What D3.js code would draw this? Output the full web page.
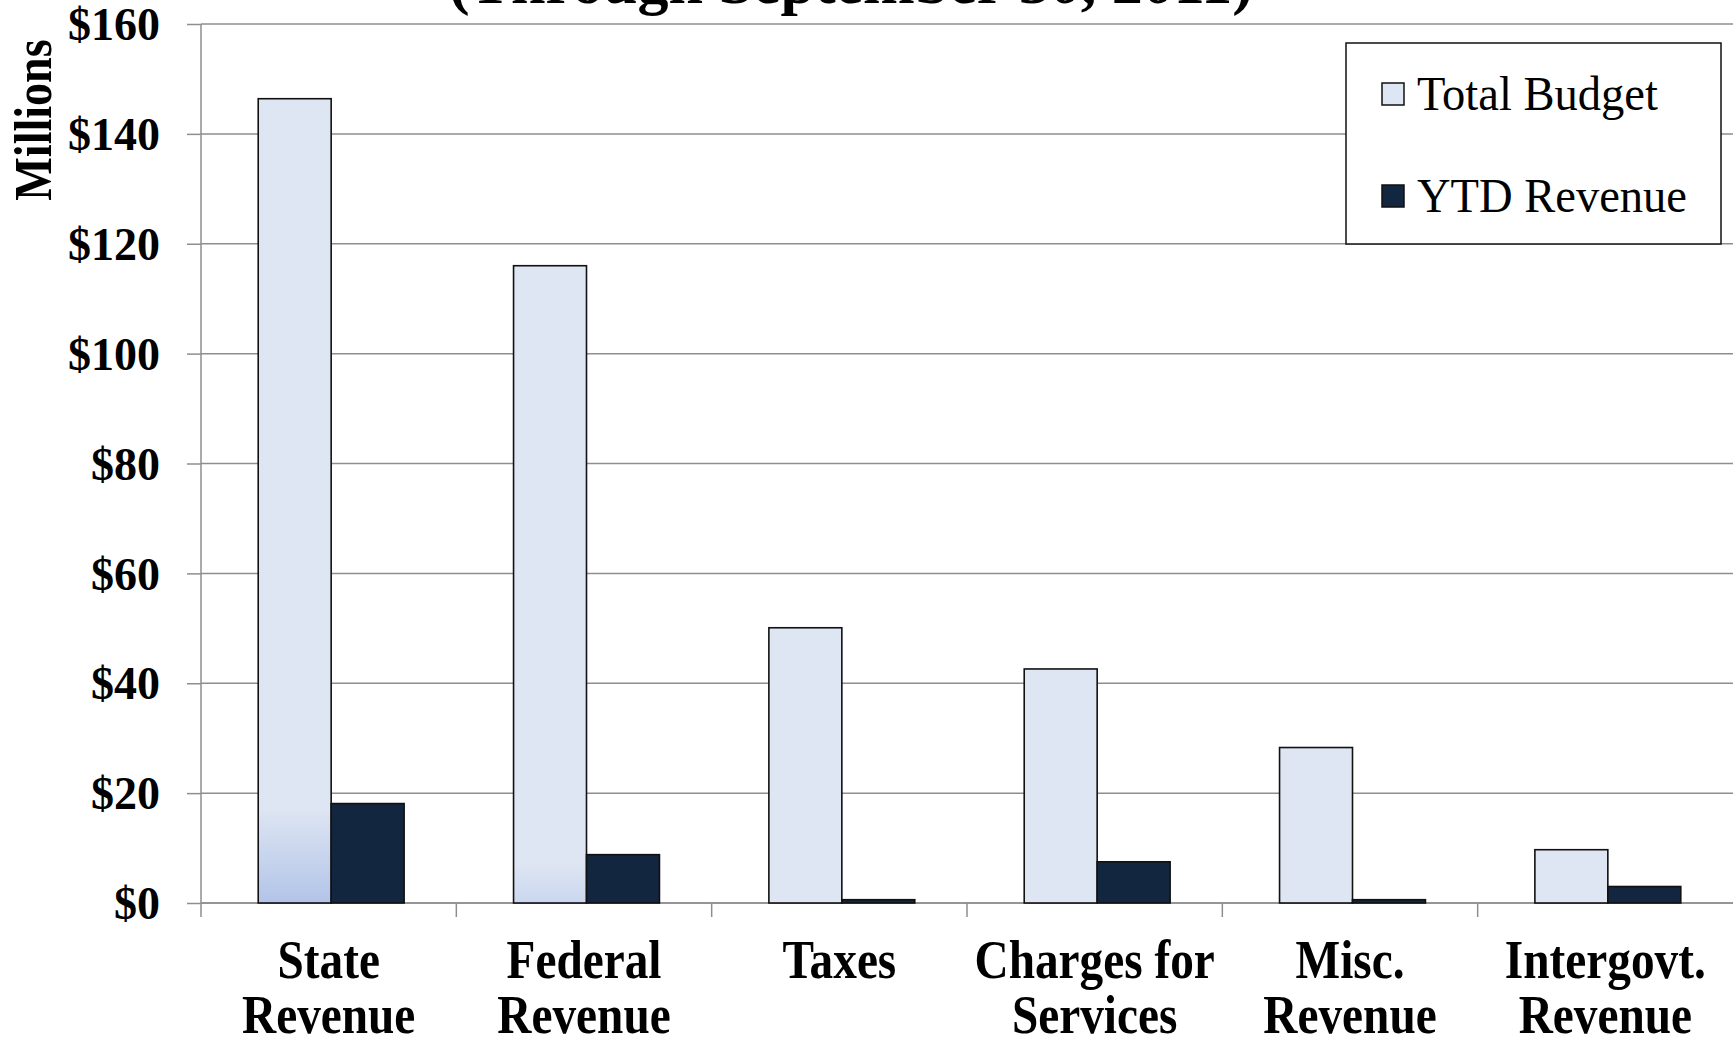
<!DOCTYPE html>
<html>
<head>
<meta charset="utf-8">
<script src="https://cdn.jsdelivr.net/npm/d3@7"></script>
<style>
  body { margin: 0; background: #fff; }
  svg text { font-family: "Liberation Serif", "Times New Roman", serif; fill: #000; }
</style>
</head>
<body>
<div id="chart"></div>
<script>
// data (millions of dollars)
const categories = ["State Revenue", "Federal Revenue", "Taxes", "Charges for Services", "Misc. Revenue", "Intergovt. Revenue"];
const categoryLines = [["State", "Revenue"], ["Federal", "Revenue"], ["Taxes"], ["Charges for", "Services"], ["Misc.", "Revenue"], ["Intergovt.", "Revenue"]];
const totalBudget = [146.4, 116.0, 50.1, 42.6, 28.3, 9.7];
const ytdRevenue = [18.1, 8.8, 0.6, 7.5, 0.6, 3.0];
const seriesNames = ["Total Budget", "YTD Revenue"];
const yTicks = [0, 20, 40, 60, 80, 100, 120, 140, 160];

const width = 1733, height = 1037;
const margin = {top: 24, right: 0, bottom: 134, left: 201};
const innerW = width - margin.left - margin.right;
const innerH = height - margin.top - margin.bottom;

const colors = {"Total Budget": "#dfe6f3", "YTD Revenue": "#13263f"};

const svg = d3.select("#chart").append("svg")
    .attr("width", width)
    .attr("height", height);

// gradient at the foot of the two tallest budget bars
const defs = svg.append("defs");
function addShade(id, start, endColor) {
  const g = defs.append("linearGradient").attr("id", id)
      .attr("x1", 0).attr("y1", 0).attr("x2", 0).attr("y2", 1);
  g.append("stop").attr("offset", 0).attr("stop-color", colors["Total Budget"]);
  g.append("stop").attr("offset", start).attr("stop-color", colors["Total Budget"]);
  g.append("stop").attr("offset", 1).attr("stop-color", endColor);
}
addShade("shade0", 0.88, "#b2c4e8");
addShade("shade1", 0.935, "#cad7ef");

const g = svg.append("g").attr("transform", `translate(${margin.left},${margin.top})`);

const x = d3.scaleBand().domain(categories).range([0, innerW]).padding(0);
// Excel style gap width of 150%
const x1 = d3.scaleBand().domain(seriesNames).range([2.5, x.bandwidth() + 2.5]).paddingInner(0).paddingOuter(0.75);
const y = d3.scaleLinear().domain([0, 160]).range([innerH, 0]);

// gridlines
g.append("g").selectAll("line").data(yTicks).join("line")
    .attr("x1", 0).attr("x2", innerW)
    .attr("y1", d => y(d)).attr("y2", d => y(d))
    .attr("stroke", "#8e8e8e").attr("stroke-width", 1.5);

// y axis
const yAxis = d3.axisLeft(y).tickValues(yTicks).tickSize(14).tickPadding(27).tickFormat(d => "$" + d);
const yAxisG = g.append("g").call(yAxis);
yAxisG.select(".domain").remove();
yAxisG.selectAll(".tick line").attr("stroke", "#8e8e8e").attr("stroke-width", 1.5);
yAxisG.selectAll(".tick text")
    .attr("font-size", 46).attr("font-weight", "bold")
    .attr("font-family", "Liberation Serif, serif").attr("fill", "#000")
    .attr("dy", "0.34em");
g.append("line").attr("x1", 0).attr("x2", 0).attr("y1", 0).attr("y2", innerH + 14)
    .attr("stroke", "#8e8e8e").attr("stroke-width", 1.5);

// x axis line and boundary ticks
g.append("line").attr("x1", 0).attr("x2", innerW).attr("y1", innerH).attr("y2", innerH)
    .attr("stroke", "#8e8e8e").attr("stroke-width", 1.5);
g.append("g").selectAll("line").data(categories.slice(1)).join("line")
    .attr("x1", d => x(d)).attr("x2", d => x(d))
    .attr("y1", innerH).attr("y2", innerH + 14)
    .attr("stroke", "#8e8e8e").attr("stroke-width", 1.5);

// bars
const rows = categories.map((c, i) => ({cat: c, i: i, vals: [
  {key: "Total Budget", v: totalBudget[i]},
  {key: "YTD Revenue", v: ytdRevenue[i]}
]}));

const groups = g.append("g").selectAll("g").data(rows).join("g")
    .attr("transform", d => `translate(${x(d.cat)},0)`);
groups.selectAll("rect").data(d => d.vals.map(v => ({...v, i: d.i}))).join("rect")
    .attr("x", d => x1(d.key))
    .attr("width", x1.bandwidth())
    .attr("y", d => y(d.v))
    .attr("height", d => innerH - y(d.v))
    .attr("fill", d => (d.key === "Total Budget" && d.i < 2) ? `url(#shade${d.i})` : colors[d.key])
    .attr("stroke", "#111")
    .attr("stroke-width", 1.6);

// category labels (condensed bold serif)
const labels = g.append("g").selectAll("g").data(rows).join("g")
    .attr("transform", d => `translate(${x(d.cat) + x.bandwidth() / 2},${innerH + 75}) scale(0.86,1)`);
labels.selectAll("text").data(d => categoryLines[d.i]).join("text")
    .attr("y", (d, j) => j * 55)
    .attr("text-anchor", "middle")
    .attr("font-size", 55).attr("font-weight", "bold")
    .text(d => d);

// y axis title
svg.append("text")
    .attr("transform", "translate(51,120) rotate(-90) scale(0.87,1)")
    .attr("text-anchor", "middle")
    .attr("font-size", 53).attr("font-weight", "bold")
    .text("Millions");

// chart title, cut off at the top of the picture
svg.append("text")
    .attr("x", 851).attr("y", 3)
    .attr("text-anchor", "middle")
    .attr("font-size", 62).attr("font-weight", "bold")
    .text("(Through September 30, 2011)");

// legend
const legend = svg.append("g").attr("transform", "translate(1346,43)");
legend.append("rect").attr("width", 375).attr("height", 201)
    .attr("fill", "#fff").attr("stroke", "#111").attr("stroke-width", 1.5);
const items = legend.selectAll("g").data(seriesNames).join("g")
    .attr("transform", (d, i) => `translate(36,${40 + i * 102})`);
items.append("rect").attr("width", 22).attr("height", 22)
    .attr("fill", d => colors[d]).attr("stroke", "#111").attr("stroke-width", 1.5);
items.append("text")
    .attr("x", 36).attr("y", 27)
    .attr("font-size", 48)
    .attr("transform", "scale(0.97,1)")
    .text(d => d);
</script>
</body>
</html>
